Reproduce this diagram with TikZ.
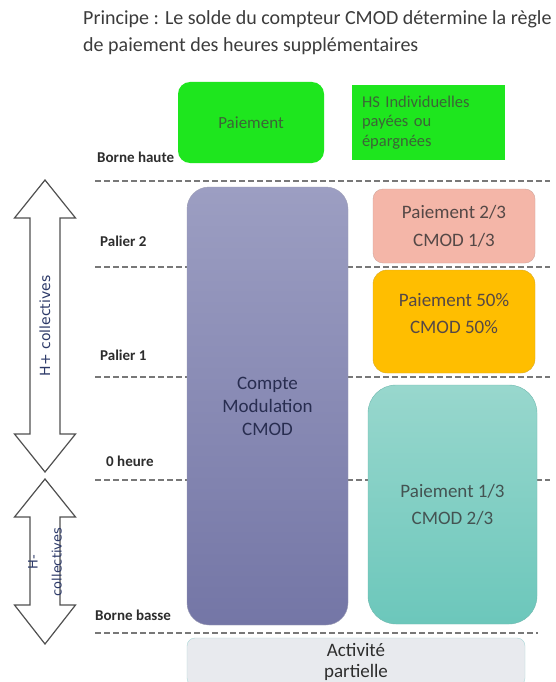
\documentclass[tikz,border=0pt]{standalone}
\usepackage{fontspec}
\setmainfont{Carlito}
\newfontfamily\arrowfont{DejaVu Sans}
\usetikzlibrary{positioning}

\definecolor{paygreen}{RGB}{30,230,30}
\definecolor{paytext}{RGB}{60,100,55}
\definecolor{titlegray}{RGB}{60,60,60}
\definecolor{labelgray}{RGB}{45,45,45}
\definecolor{dashgray}{RGB}{120,120,120}
\definecolor{arrowgray}{RGB}{80,80,80}
\definecolor{navytext}{RGB}{45,58,105}
\definecolor{cmodtop}{RGB}{156,158,194}
\definecolor{cmodbottom}{RGB}{116,118,166}
\definecolor{cmodtext}{RGB}{40,45,80}
\definecolor{pinkfill}{RGB}{244,182,168}
\definecolor{orangefill}{RGB}{255,190,0}
\definecolor{tealtop}{RGB}{152,215,205}
\definecolor{tealbottom}{RGB}{108,199,187}
\definecolor{boxtextgray}{RGB}{85,72,70}
\definecolor{actfill}{RGB}{232,234,238}
\definecolor{actline}{RGB}{170,215,215}

\begin{document}
\begin{tikzpicture}[x=1pt,y=-1pt,
  levelline/.style={draw=dashgray, line width=2pt, dash pattern=on 6pt off 3pt},
  levellabel/.style={anchor=west, inner sep=0pt, text=labelgray,
    font=\fontsize{15}{18}\selectfont\bfseries},
  boxtext/.style={align=center, font=\fontsize{19}{26}\selectfont},
  arrowtext/.style={rotate=90, align=center, text=navytext,
    font=\fontsize{13}{24}\selectfont\arrowfont}]
\useasboundingbox (0,0) rectangle (555,682);
\fill [white] (0,0) rectangle (555,682);

\node [anchor=north west, align=left, inner sep=0pt, text=titlegray,
  font=\fontsize{20}{27}\selectfont] (title) at (83,10)
  {Principe : Le solde du compteur CMOD détermine la règle\\de paiement des heures supplémentaires};

% levels
\draw [levelline] (95,181) -- (550,181);
\draw [levelline] (95,267) -- (550,267);
\draw [levelline] (95,377) -- (550,377);
\draw [levelline] (95,480) -- (550,480);
\draw [levelline] (95,633) -- (538,633);

% top green boxes
\node [fill=paygreen, rounded corners=12pt, minimum width=146pt, minimum height=81pt,
  text=paytext, font=\fontsize{17}{19}\selectfont] (pay) at (251,122.5) {Paiement};
\node [fill=paygreen, text width=133pt, inner xsep=10pt, minimum height=75pt, align=left,
  text=paytext, font=\fontsize{16.5}{19.5}\selectfont] (hs) at (428.5,122.5)
  {HS Individuelles\\payées ou\\épargnées};

% counter
\node [top color=cmodtop, bottom color=cmodbottom, draw=cmodbottom!80!black!60, rounded corners=22pt,
  minimum width=161pt, minimum height=438pt, text=cmodtext, boxtext,
  font=\fontsize{19}{23}\selectfont] (cmod) at (267.5,406) {Compte\\Modulation\\CMOD};

% payment rules
\node [fill=pinkfill, draw=pinkfill!70!gray, rounded corners=10pt, minimum width=162pt,
  minimum height=74pt, text=boxtextgray, boxtext, font=\fontsize{19}{28}\selectfont] (twothird) at (454,226)
  {Paiement 2/3\\CMOD 1/3};
\node [fill=orangefill, draw=orangefill!70!gray, rounded corners=14pt, minimum width=162pt,
  minimum height=103pt] (half) at (454,321.5) {};
\node [text=boxtextgray, boxtext, font=\fontsize{19}{27}\selectfont, yshift=8pt] (halftext) at (half.center)
  {Paiement 50\%\\CMOD 50\%};
\node [top color=tealtop, bottom color=tealbottom, draw=tealbottom!80!gray, rounded corners=28pt,
  minimum width=169pt, minimum height=239pt, text=boxtextgray!80!teal, boxtext,
  font=\fontsize{19}{27}\selectfont] (onethird) at (452.5,504.5)
  {Paiement 1/3\\CMOD 2/3};
\node [fill=actfill, draw=actline, rounded corners=8pt, minimum width=338pt, minimum height=48pt,
  text=labelgray, boxtext, font=\fontsize{19}{21}\selectfont] (partial) at (356,662)
  {Activité\\partielle};

% level names
\node [levellabel] (high) at (97,157) {Borne haute};
\node [levellabel] (step2) at (100,241) {Palier 2};
\node [levellabel] (step1) at (100,355) {Palier 1};
\node [levellabel] (zero) at (106,461) {0 heure};
\node [levellabel] (low) at (95,615) {Borne basse};

% double arrows
\filldraw [fill=white, draw=arrowgray, line width=1.2pt] (45,180) -- (75.5,218) -- (60,218) -- (60,434)
  -- (75.5,434) -- (45,472) -- (14.5,434) -- (30,434) -- (30,218) -- (14.5,218) -- cycle;
\filldraw [fill=white, draw=arrowgray, line width=1.2pt] (45,479) -- (75.5,517) -- (60,517) -- (60,605)
  -- (75.5,605) -- (45,644) -- (14.5,605) -- (30,605) -- (30,517) -- (14.5,517) -- cycle;
\node [arrowtext, font=\fontsize{14}{24}\selectfont\arrowfont] (plus) at (45,326) {H+ collectives};
\node [arrowtext] (minus) at (45,562) {H-\\collectives};
\end{tikzpicture}
\end{document}
